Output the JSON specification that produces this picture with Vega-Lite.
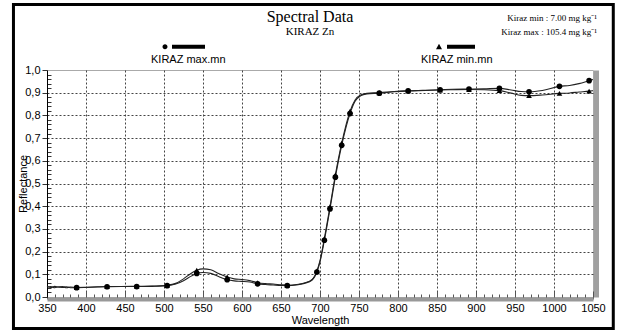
{
  "$schema": "https://vega.github.io/schema/vega-lite/v6.json",
  "width": 546,
  "height": 227,
  "autosize": {"type": "none"},
  "padding": {"left": 47, "top": 70, "right": 24, "bottom": 37},
  "background": "white",
  "title": {
    "text": "Spectral Data",
    "subtitle": "KIRAZ Zn",
    "font": "Liberation Serif",
    "fontSize": 16,
    "fontWeight": "normal",
    "color": "black",
    "subtitleFont": "Liberation Serif",
    "subtitleFontSize": 11,
    "subtitleColor": "black",
    "subtitlePadding": 1,
    "anchor": "middle",
    "dx": -10,
    "offset": -34
  },
  "config": {
    "view": {"stroke": "#aaaaaa", "strokeWidth": 1},
    "axis": {
      "labelFont": "Liberation Sans",
      "labelFontSize": 11,
      "labelColor": "black",
      "titleFont": "Liberation Sans",
      "titleFontSize": 11,
      "titleFontWeight": "normal",
      "titleColor": "black"
    }
  },
  "datasets": {
    "spectra": [
      {"wl": 350, "max": 0.044, "min": 0.046},
      {"wl": 355, "max": 0.046, "min": 0.042},
      {"wl": 360, "max": 0.041, "min": 0.047},
      {"wl": 365, "max": 0.045, "min": 0.043},
      {"wl": 370, "max": 0.042, "min": 0.046},
      {"wl": 375, "max": 0.045, "min": 0.041},
      {"wl": 380, "max": 0.041, "min": 0.044},
      {"wl": 388, "max": 0.041, "min": 0.042},
      {"wl": 400, "max": 0.042, "min": 0.043},
      {"wl": 415, "max": 0.044, "min": 0.045},
      {"wl": 427, "max": 0.045, "min": 0.046},
      {"wl": 445, "max": 0.046, "min": 0.046},
      {"wl": 465, "max": 0.046, "min": 0.047},
      {"wl": 485, "max": 0.047, "min": 0.048},
      {"wl": 504, "max": 0.050, "min": 0.052},
      {"wl": 515, "max": 0.057, "min": 0.060},
      {"wl": 525, "max": 0.072, "min": 0.080},
      {"wl": 535, "max": 0.092, "min": 0.105},
      {"wl": 542, "max": 0.104, "min": 0.118},
      {"wl": 550, "max": 0.108, "min": 0.124},
      {"wl": 560, "max": 0.104, "min": 0.120},
      {"wl": 570, "max": 0.090, "min": 0.103},
      {"wl": 581, "max": 0.076, "min": 0.088},
      {"wl": 590, "max": 0.071, "min": 0.080},
      {"wl": 600, "max": 0.069, "min": 0.077},
      {"wl": 610, "max": 0.066, "min": 0.072},
      {"wl": 620, "max": 0.058, "min": 0.063},
      {"wl": 630, "max": 0.055, "min": 0.059},
      {"wl": 640, "max": 0.053, "min": 0.057},
      {"wl": 650, "max": 0.051, "min": 0.054},
      {"wl": 658, "max": 0.050, "min": 0.052},
      {"wl": 670, "max": 0.053, "min": 0.055},
      {"wl": 680, "max": 0.060, "min": 0.062},
      {"wl": 690, "max": 0.075, "min": 0.078},
      {"wl": 696, "max": 0.110, "min": 0.115},
      {"wl": 700, "max": 0.155, "min": 0.160},
      {"wl": 705.6, "max": 0.250, "min": 0.258},
      {"wl": 712.8, "max": 0.388, "min": 0.398},
      {"wl": 719.7, "max": 0.528, "min": 0.538},
      {"wl": 727.8, "max": 0.668, "min": 0.678},
      {"wl": 738.5, "max": 0.808, "min": 0.818},
      {"wl": 745, "max": 0.862, "min": 0.868},
      {"wl": 752, "max": 0.886, "min": 0.890},
      {"wl": 760, "max": 0.895, "min": 0.897},
      {"wl": 776, "max": 0.898, "min": 0.900},
      {"wl": 795, "max": 0.904, "min": 0.905},
      {"wl": 813, "max": 0.908, "min": 0.908},
      {"wl": 835, "max": 0.911, "min": 0.910},
      {"wl": 854, "max": 0.913, "min": 0.912},
      {"wl": 870, "max": 0.915, "min": 0.913},
      {"wl": 891, "max": 0.916, "min": 0.914},
      {"wl": 910, "max": 0.917, "min": 0.913},
      {"wl": 930, "max": 0.919, "min": 0.909},
      {"wl": 945, "max": 0.912, "min": 0.898},
      {"wl": 958, "max": 0.905, "min": 0.888},
      {"wl": 968, "max": 0.904, "min": 0.887},
      {"wl": 985, "max": 0.910, "min": 0.890},
      {"wl": 1007, "max": 0.928, "min": 0.897},
      {"wl": 1020, "max": 0.932, "min": 0.899},
      {"wl": 1032, "max": 0.940, "min": 0.903},
      {"wl": 1045, "max": 0.953, "min": 0.907},
      {"wl": 1050, "max": 0.958, "min": 0.909}
    ],
    "markers": [
      {"wl": 388, "max": 0.041, "min": 0.042},
      {"wl": 427, "max": 0.045, "min": 0.046},
      {"wl": 465, "max": 0.046, "min": 0.047},
      {"wl": 504, "max": 0.050, "min": 0.052},
      {"wl": 542, "max": 0.104, "min": 0.118},
      {"wl": 581, "max": 0.076, "min": 0.088},
      {"wl": 620, "max": 0.058, "min": 0.063},
      {"wl": 658, "max": 0.050, "min": 0.052},
      {"wl": 696, "max": 0.110, "min": 0.115},
      {"wl": 705.6, "max": 0.250, "min": 0.258},
      {"wl": 712.8, "max": 0.388, "min": 0.398},
      {"wl": 719.7, "max": 0.528, "min": 0.538},
      {"wl": 727.8, "max": 0.668, "min": 0.678},
      {"wl": 738.5, "max": 0.808, "min": 0.818},
      {"wl": 776, "max": 0.898, "min": 0.900},
      {"wl": 813, "max": 0.908, "min": 0.908},
      {"wl": 854, "max": 0.913, "min": 0.912},
      {"wl": 891, "max": 0.916, "min": 0.914},
      {"wl": 930, "max": 0.919, "min": 0.909},
      {"wl": 968, "max": 0.904, "min": 0.887},
      {"wl": 1007, "max": 0.928, "min": 0.897},
      {"wl": 1045, "max": 0.953, "min": 0.907}
    ]
  },
  "layer": [
    {
      "data": {"values": [{}]},
      "mark": {"type": "rect", "filled": false, "stroke": "black", "strokeWidth": 3},
      "encoding": {
        "x": {"datum": 307, "type": "quantitative", "scale": {"domain": [350, 1050], "nice": false, "zero": false},
          "axis": {
            "title": "Wavelength", "titlePadding": -2,
            "values": [350,360,370,380,390,400,410,420,430,440,450,460,470,480,490,500,510,520,530,540,550,560,570,580,590,600,610,620,630,640,650,660,670,680,690,700,710,720,730,740,750,760,770,780,790,800,810,820,830,840,850,860,870,880,890,900,910,920,930,940,950,960,970,980,990,1000,1010,1020,1030,1040,1050],
            "labelExpr": "datum.value % 50 === 0 ? datum.value : ''",
            "grid": true, "gridDash": [2, 2], "gridColor": "#444444",
            "gridOpacity": {"condition": {"test": "datum.value % 50 === 0 && datum.value > 355 && datum.value < 1045", "value": 1}, "value": 0},
            "tickSize": {"condition": {"test": "datum.value % 50 === 0", "value": -8}, "value": -5},
            "tickColor": "#555555", "domainColor": "#999999", "domainWidth": 4, "offset": 2,
            "labelPadding": 11, "labelFlush": false, "labelOverlap": false
          }},
        "x2": {"datum": 1076},
        "y": {"datum": 1.289, "type": "quantitative", "scale": {"domain": [0, 1], "nice": false, "zero": false}, "axis": null},
        "y2": {"datum": -0.139}
      }
    },
    {
      "data": {"name": "spectra"},
      "transform": [{"fold": ["max", "min"], "as": ["series", "r"]}],
      "mark": {"type": "line", "interpolate": "monotone", "stroke": "#222222", "strokeWidth": 1.1},
      "encoding": {
        "x": {
          "field": "wl",
          "type": "quantitative",
          "scale": {"domain": [350, 1050], "nice": false, "zero": false},
          "axis": {
            "title": "Wavelength", "titlePadding": -2,
            "values": [350,360,370,380,390,400,410,420,430,440,450,460,470,480,490,500,510,520,530,540,550,560,570,580,590,600,610,620,630,640,650,660,670,680,690,700,710,720,730,740,750,760,770,780,790,800,810,820,830,840,850,860,870,880,890,900,910,920,930,940,950,960,970,980,990,1000,1010,1020,1030,1040,1050],
            "labelExpr": "datum.value % 50 === 0 ? datum.value : ''",
            "grid": true, "gridDash": [2, 2], "gridColor": "#444444",
            "gridOpacity": {"condition": {"test": "datum.value % 50 === 0 && datum.value > 355 && datum.value < 1045", "value": 1}, "value": 0},
            "tickSize": {"condition": {"test": "datum.value % 50 === 0", "value": -8}, "value": -5},
            "tickColor": "#555555", "domainColor": "#999999", "domainWidth": 4, "offset": 2,
            "labelPadding": 11, "labelFlush": false, "labelOverlap": false
          }
        },
        "y": {
          "field": "r",
          "type": "quantitative",
          "scale": {"domain": [0, 1], "nice": false, "zero": false},
          "axis": {
            "title": "Reflectance",
            "titlePadding": -4,
            "values": [0,0.02,0.04,0.06,0.08,0.1,0.12,0.14,0.16,0.18,0.2,0.22,0.24,0.26,0.28,0.3,0.32,0.34,0.36,0.38,0.4,0.42,0.44,0.46,0.48,0.5,0.52,0.54,0.56,0.58,0.6,0.62,0.64,0.66,0.68,0.7,0.72,0.74,0.76,0.78,0.8,0.82,0.84,0.86,0.88,0.9,0.92,0.94,0.96,0.98,1],
            "labelExpr": "abs(datum.value*10 - round(datum.value*10)) < 0.001 ? replace(format(datum.value, '.1f'), '.', ',') : ''",
            "grid": true,
            "gridDash": [2, 2],
            "gridColor": "#444444",
            "gridOpacity": {"condition": {"test": "abs(datum.value*10 - round(datum.value*10)) < 0.001 && datum.value > 0.05 && datum.value < 0.95", "value": 1}, "value": 0},
            "tickSize": {"condition": {"test": "abs(datum.value*10 - round(datum.value*10)) < 0.001", "value": 5}, "value": -4},
            "tickColor": "#333333",
            "domainColor": "black",
            "labelPadding": 2,
            "labelFlush": false,
            "labelOverlap": false
          }
        },
        "detail": {"field": "series", "type": "nominal"}
      }
    },
    {
      "data": {"name": "markers"},
      "transform": [{"fold": ["max", "min"], "as": ["series", "r"]}],
      "mark": {"type": "point", "filled": true, "color": "black", "size": 32, "opacity": 1},
      "encoding": {
        "x": {"field": "wl", "type": "quantitative", "scale": {"domain": [350, 1050], "nice": false, "zero": false},
          "axis": {
            "title": "Wavelength", "titlePadding": -2,
            "values": [350,360,370,380,390,400,410,420,430,440,450,460,470,480,490,500,510,520,530,540,550,560,570,580,590,600,610,620,630,640,650,660,670,680,690,700,710,720,730,740,750,760,770,780,790,800,810,820,830,840,850,860,870,880,890,900,910,920,930,940,950,960,970,980,990,1000,1010,1020,1030,1040,1050],
            "labelExpr": "datum.value % 50 === 0 ? datum.value : ''",
            "grid": true, "gridDash": [2, 2], "gridColor": "#444444",
            "gridOpacity": {"condition": {"test": "datum.value % 50 === 0 && datum.value > 355 && datum.value < 1045", "value": 1}, "value": 0},
            "tickSize": {"condition": {"test": "datum.value % 50 === 0", "value": -8}, "value": -5},
            "tickColor": "#555555", "domainColor": "#999999", "domainWidth": 4, "offset": 2,
            "labelPadding": 11, "labelFlush": false, "labelOverlap": false
          }},
        "y": {
          "field": "r",
          "type": "quantitative",
          "scale": {"domain": [0, 1], "nice": false, "zero": false},
          "axis": {"orient": "right", "title": null, "labels": false, "ticks": false, "grid": false, "domainColor": "#a0a0a0", "domainWidth": 5, "offset": 3}
        },
        "shape": {
          "field": "series",
          "type": "nominal",
          "scale": {"domain": ["max", "min"], "range": ["circle", "triangle-up"]},
          "legend": null
        }
      }
    },
    {
      "data": {"name": "markers"},
      "transform": [{"fold": ["max", "min"], "as": ["series", "r"]}, {"filter": "datum.wl < 0"}],
      "mark": {"type": "point", "filled": true, "color": "black", "size": 25, "opacity": 1},
      "encoding": {
        "x": {"field": "wl", "type": "quantitative", "scale": {"domain": [350, 1050], "nice": false, "zero": false},
          "axis": {
            "title": "Wavelength", "titlePadding": -2,
            "values": [350,360,370,380,390,400,410,420,430,440,450,460,470,480,490,500,510,520,530,540,550,560,570,580,590,600,610,620,630,640,650,660,670,680,690,700,710,720,730,740,750,760,770,780,790,800,810,820,830,840,850,860,870,880,890,900,910,920,930,940,950,960,970,980,990,1000,1010,1020,1030,1040,1050],
            "labelExpr": "datum.value % 50 === 0 ? datum.value : ''",
            "grid": true, "gridDash": [2, 2], "gridColor": "#444444",
            "gridOpacity": {"condition": {"test": "datum.value % 50 === 0 && datum.value > 355 && datum.value < 1045", "value": 1}, "value": 0},
            "tickSize": {"condition": {"test": "datum.value % 50 === 0", "value": -8}, "value": -5},
            "tickColor": "#555555", "domainColor": "#999999", "domainWidth": 4, "offset": 2,
            "labelPadding": 11, "labelFlush": false, "labelOverlap": false
          }},
        "y": {"field": "r", "type": "quantitative", "scale": {"domain": [0, 1], "nice": false, "zero": false}, "axis": null},
        "shape": {
          "field": "series",
          "type": "nominal",
          "scale": {
            "domain": ["max", "min"],
            "range": [
              "M 7.6 -5.2 A 1 1 0 1 0 9.6 -5.2 A 1 1 0 1 0 7.6 -5.2 Z M 11.4 -6 L 24.6 -6 L 24.6 -4.4 L 11.4 -4.4 Z",
              "M 9 -4.2 L 10.2 -6.4 L 11.4 -4.2 Z M 13.4 -6 L 24.6 -6 L 24.6 -4.4 L 13.4 -4.4 Z"
            ]
          },
          "legend": {
            "orient": "none",
            "legendX": 91,
            "legendY": -16,
            "direction": "horizontal",
            "title": null,
            "padding": 0,
            "labelExpr": "datum.label == 'max' ? 'KIRAZ max.mn' : 'KIRAZ min.mn'",
            "labelFont": "Liberation Sans",
            "labelFontSize": 11,
            "labelColor": "black",
            "labelOffset": 2,
            "symbolSize": 25,
            "symbolFillColor": "black",
            "symbolStrokeWidth": 0,
            "symbolOpacity": 1,
            "columnPadding": 182
          }
        }
      }
    },
    {
      "data": {"values": [{}]},
      "mark": {"type": "text", "align": "right", "baseline": "middle", "dx": 4, "font": "Liberation Serif", "fontSize": 9, "lineBreak": "\n", "lineHeight": 14, "color": "black"},
      "encoding": {
        "x": {"datum": 1050, "type": "quantitative", "scale": {"domain": [350, 1050], "nice": false, "zero": false},
          "axis": {
            "title": "Wavelength", "titlePadding": -2,
            "values": [350,360,370,380,390,400,410,420,430,440,450,460,470,480,490,500,510,520,530,540,550,560,570,580,590,600,610,620,630,640,650,660,670,680,690,700,710,720,730,740,750,760,770,780,790,800,810,820,830,840,850,860,870,880,890,900,910,920,930,940,950,960,970,980,990,1000,1010,1020,1030,1040,1050],
            "labelExpr": "datum.value % 50 === 0 ? datum.value : ''",
            "grid": true, "gridDash": [2, 2], "gridColor": "#444444",
            "gridOpacity": {"condition": {"test": "datum.value % 50 === 0 && datum.value > 355 && datum.value < 1045", "value": 1}, "value": 0},
            "tickSize": {"condition": {"test": "datum.value % 50 === 0", "value": -8}, "value": -5},
            "tickColor": "#555555", "domainColor": "#999999", "domainWidth": 4, "offset": 2,
            "labelPadding": 11, "labelFlush": false, "labelOverlap": false
          }},
        "y": {"datum": 1.229, "type": "quantitative", "scale": {"domain": [0, 1], "nice": false, "zero": false}, "axis": null},
        "text": {"value": "Kiraz min : 7.00  mg kg⁻¹\nKiraz max : 105.4 mg kg⁻¹"}
      }
    }
  ],
  "resolve": {
    "axis": {"y": "independent"},
    "scale": {"shape": "independent"},
    "legend": {"shape": "independent"}
  }
}
